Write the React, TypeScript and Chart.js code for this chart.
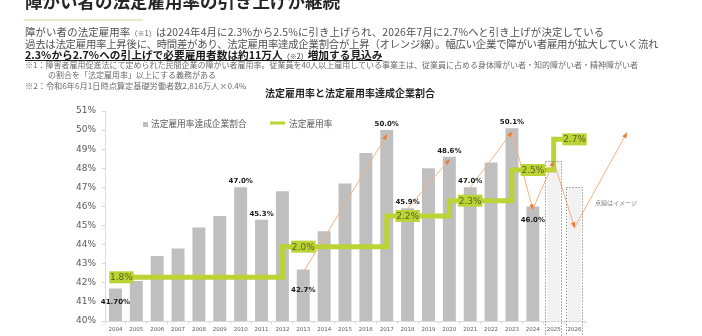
import React, { useEffect, useRef } from 'react';
import { Chart, registerables } from 'chart.js';

Chart.register(...registerables);

// ---------- data ----------
const years = ['2004', '2005', '2006', '2007', '2008', '2009', '2010', '2011', '2012', '2013', '2014', '2015', '2016', '2017', '2018', '2019', '2020', '2021', '2022', '2023', '2024', '2025', '2026'];
const achievementRate = [41.7, 42.1, 43.4, 43.8, 44.9, 45.5, 47.0, 45.3, 46.8, 42.7, 44.7, 47.2, 48.8, 50.0, 45.9, 48.0, 48.6, 47.0, 48.3, 50.1, 46.0, 48.4, 47.0];
const achievementLabels = ['41.70%', '', '', '', '', '', '47.0%', '45.3%', '', '42.7%', '', '', '', '50.0%', '45.9%', '', '48.6%', '47.0%', '', '50.1%', '46.0%', '', ''];
const legalRate = [1.8, 1.8, 1.8, 1.8, 1.8, 1.8, 1.8, 1.8, 1.8, 2.0, 2.0, 2.0, 2.0, 2.0, 2.2, 2.2, 2.2, 2.3, 2.3, 2.3, 2.5, 2.5, 2.7];
const imageYears = ['2025', '2026'];
// orange trend arrows (year, value); null separates paths
const trendYears = [2013, 2017, null, 2018, 2020, null, 2021, 2023, 2024, 2025, 2026, 2028.5];
const trendValues = [42.55, 49.75, null, 45.9, 48.45, null, 47.0, 49.9, 45.85, 48.35, 44.9, 49.85];
const yTicksMin = 40;
const yTicksMax = 51;

const seriesNames = ['法定雇用率達成企業割合', '法定雇用率'];
const chartTitle = '法定雇用率と法定雇用率達成企業割合';
const imageNote = '点線はイメージ';

// ---------- styles ----------
const BAR_COLOR = '#bfbfbf';
const IMAGE_BAR_COLOR = '#f2f2f2';
const LIME = '#bcd235';
const LIME_TEXT = '#56661a';
const ORANGE_LINE = '#f4b183';
const ORANGE_HEAD = '#ed7d31';
const AXIS_TEXT = '#595959';
const CJK = '"Noto Sans CJK JP", sans-serif';
const LATIN = '"DejaVu Sans", sans-serif';
const labelOffsetY: Record<string, number> = { '2004': 14, '2013': 21, '2024': 14 };

const overlayPlugin = {
  id: 'overlay',
  afterDatasetsDraw(chart: any) {
    const ctx = chart.ctx as CanvasRenderingContext2D;
    // dotted outline for image bars
    const barMeta = chart.getDatasetMeta(0);
    barMeta.data.forEach((bar: any, i: number) => {
      if (!imageYears.includes(years[i])) return;
      const p = bar.getProps(['x', 'y', 'base', 'width'], true);
      ctx.save();
      ctx.setLineDash([1.2, 1.8]);
      ctx.strokeStyle = '#7f7f7f';
      ctx.lineWidth = 1;
      ctx.strokeRect(Math.round(p.x - p.width / 2) - 1.5, Math.round(p.y) + 0.5, Math.round(p.width) + 3, p.base - p.y);
      ctx.restore();
    });

    // arrowheads for trend lines
    const tMeta = chart.getDatasetMeta(1);
    for (let i = 1; i < trendValues.length; i++) {
      if (trendValues[i] == null || trendValues[i - 1] == null) continue;
      const a = tMeta.data[i - 1];
      const b = tMeta.data[i];
      const ang = Math.atan2(b.y - a.y, b.x - a.x);
      const len = 5;
      const hw = 2.2;
      ctx.save();
      ctx.translate(b.x, b.y);
      ctx.rotate(ang);
      ctx.fillStyle = ORANGE_HEAD;
      ctx.beginPath();
      ctx.moveTo(1, 0);
      ctx.lineTo(-len, -hw);
      ctx.lineTo(-len, hw);
      ctx.closePath();
      ctx.fill();
      ctx.restore();
    }

    // bar value labels
    ctx.save();
    ctx.font = `bold 7px ${LATIN}`;
    ctx.fillStyle = '#1a1a1a';
    ctx.textAlign = 'center';
    ctx.textBaseline = 'middle';
    barMeta.data.forEach((bar: any, i: number) => {
      const t = achievementLabels[i];
      if (!t) return;
      const off = labelOffsetY[years[i]] ?? -6;
      ctx.fillText(t, bar.x, bar.y + off);
    });
    ctx.restore();

    // step labels
    const sMeta = chart.getDatasetMeta(2);
    ctx.save();
    ctx.font = `9px ${LATIN}`;
    ctx.textAlign = 'center';
    ctx.textBaseline = 'middle';
    for (let i = 0; i < legalRate.length; i++) {
      if (i > 0 && legalRate[i] === legalRate[i - 1]) continue;
      const pt = sMeta.data[i];
      const cx = pt.x + (i === 0 ? 6 : 0);
      const cy = pt.y;
      const t = legalRate[i].toFixed(1) + '%';
      const w = ctx.measureText(t).width + 1.5;
      ctx.fillStyle = LIME;
      ctx.fillRect(cx - w / 2, cy - 6, w, 12);
      ctx.fillStyle = LIME_TEXT;
      ctx.fillText(t, cx, cy + 0.5);
    }
    ctx.restore();
  },
  afterDraw(chart: any) {
    const ctx = chart.ctx as CanvasRenderingContext2D;
    ctx.save();
    // title
    ctx.font = `bold 10px ${CJK}`;
    ctx.fillStyle = '#262626';
    ctx.textAlign = 'left';
    ctx.textBaseline = 'middle';
    ctx.fillText(chartTitle, 265, 93.5);
    // legend
    ctx.font = `8.7px ${CJK}`;
    ctx.fillStyle = BAR_COLOR;
    ctx.fillRect(143, 122, 5, 5);
    ctx.fillStyle = AXIS_TEXT;
    ctx.fillText(seriesNames[0], 151, 124);
    ctx.fillStyle = LIME;
    ctx.fillRect(270, 121.5, 15, 3);
    ctx.fillStyle = AXIS_TEXT;
    ctx.fillText(seriesNames[1], 289, 124);
    // image note
    ctx.font = `6px ${CJK}`;
    ctx.fillStyle = '#7f7f7f';
    ctx.fillText(imageNote, 595, 202.5);
    ctx.restore();
  },
};

function ChartCanvas() {
  const ref = useRef<HTMLCanvasElement | null>(null);
  useEffect(() => {
    if (!ref.current) return;
    const trendPoints = trendYears.map((yr, i) =>
      yr == null ? { x: (trendYears[i - 1] as number) + 0.5, y: null } : { x: yr, y: trendValues[i] }
    );
    const chart = new Chart(ref.current, {
      type: 'bar',
      data: {
        labels: years,
        datasets: [
          {
            type: 'bar',
            label: seriesNames[0],
            data: achievementRate,
            backgroundColor: years.map((y) => (imageYears.includes(y) ? IMAGE_BAR_COLOR : BAR_COLOR)),
            barPercentage: 0.62,
            categoryPercentage: 1,
            grouped: false,
            order: 3,
            xAxisID: 'x',
            yAxisID: 'y',
          } as any,
          {
            type: 'line',
            label: 'trend',
            data: trendPoints as any,
            xAxisID: 'xTrend',
            yAxisID: 'y',
            borderColor: ORANGE_LINE,
            borderWidth: 1,
            pointRadius: 0,
            spanGaps: false,
            clip: false,
            order: 2,
          } as any,
          {
            type: 'line',
            label: seriesNames[1],
            data: legalRate,
            xAxisID: 'x',
            yAxisID: 'y2',
            borderColor: LIME,
            borderWidth: 5,
            stepped: 'after',
            pointRadius: 0,
            borderCapStyle: 'butt',
            borderJoinStyle: 'miter',
            order: 1,
          } as any,
        ],
      },
      options: {
        responsive: false,
        animation: false,
        devicePixelRatio: 1,
        layout: { padding: { left: 0, right: 117, top: 111, bottom: 0 } },
        plugins: { legend: { display: false }, tooltip: { enabled: false } },
        scales: {
          x: {
            type: 'category',
            offset: true,
            grid: { drawOnChartArea: false, drawTicks: true, tickLength: 3, color: '#d9d9d9' },
            border: { color: '#d9d9d9' },
            ticks: { font: { size: 5.5, family: LATIN }, color: AXIS_TEXT, padding: 2, maxRotation: 0, autoSkip: false },
            afterFit: (s: any) => { s.height = 15; },
          },
          xTrend: { type: 'linear', axis: 'x', offset: false, min: 2003.5, max: 2026.5, display: false },
          y: {
            min: yTicksMin,
            max: yTicksMax,
            grid: { drawOnChartArea: false, drawTicks: true, tickLength: 3, color: '#d9d9d9' },
            border: { color: '#d9d9d9' },
            ticks: { stepSize: 1, font: { size: 9, family: LATIN }, color: AXIS_TEXT, padding: 6, callback: (v: any) => v + '%' },
            afterFit: (s: any) => { s.width = 105; },
          },
          y2: { type: 'linear', axis: 'y', position: 'right', min: 1.515, max: 2.885, display: false },
        } as any,
      },
      plugins: [overlayPlugin],
    } as any);
    return () => chart.destroy();
  }, []);
  return <canvas ref={ref} width={702} height={336} style={{ position: 'absolute', left: 0, top: 0, width: 702, height: 336 }} />;
}

const base: React.CSSProperties = { position: 'absolute', whiteSpace: 'nowrap', fontFamily: CJK };

export default function App() {
  return (
    <div style={{ position: 'absolute', left: 0, top: 0, width: 702, height: 336, overflow: 'hidden', background: '#fff' }}>
      <ChartCanvas />
      <div style={{ ...base, left: 25, top: -8, fontSize: 17.5, lineHeight: '17.5px', fontWeight: 'bold', color: '#262626' }}>
        障がい者の法定雇用率の引き上げが継続
      </div>
      <div style={{ position: 'absolute', left: 24, top: 18.5, width: 119, height: 2, background: '#ecebd0' }} />
      <div style={{ ...base, left: 25, top: 25, fontSize: 10.4, lineHeight: '13px', letterSpacing: '0.15px', color: '#505050' }}>
        障がい者の法定雇用率<span style={{ fontSize: 7 }}>（※1）</span>は2024年4月に2.3%から2.5%に引き上げられ、2026年7月に2.7%へと引き上げが決定している
      </div>
      <div style={{ ...base, left: 25, top: 36.6, fontSize: 10.4, lineHeight: '13px', letterSpacing: '-0.24px', color: '#505050' }}>
        過去は法定雇用率上昇後に、時間差があり、法定雇用率達成企業割合が上昇（オレンジ線）。幅広い企業で障がい者雇用が拡大していく流れ
      </div>
      <div style={{ ...base, left: 25, top: 47.5, fontSize: 10.7, lineHeight: '13px', color: '#1a1a1a', fontWeight: 'bold', textDecoration: 'underline' }}>
        2.3%から2.7%への引上げで必要雇用者数は約11万人<span style={{ fontSize: 7, fontWeight: 'normal' }}>（※2）</span>増加する見込み
      </div>
      <div style={{ ...base, left: 25, top: 60, fontSize: 8, lineHeight: '10px', color: '#6b6b6b' }}>
        ※1：障害者雇用促進法にて定められた民間企業の障がい者雇用率。従業員を40人以上雇用している事業主は、従業員に占める身体障がい者・知的障がい者・精神障がい者
      </div>
      <div style={{ ...base, left: 48, top: 70, fontSize: 8, lineHeight: '10px', color: '#6b6b6b' }}>
        の割合を「法定雇用率」以上にする義務がある
      </div>
      <div style={{ ...base, left: 25, top: 79.5, fontSize: 8.2, lineHeight: '10px', color: '#6b6b6b' }}>
        ※2：令和6年6月1日時点算定基礎労働者数2,816万人×0.4%
      </div>
    </div>
  );
}
